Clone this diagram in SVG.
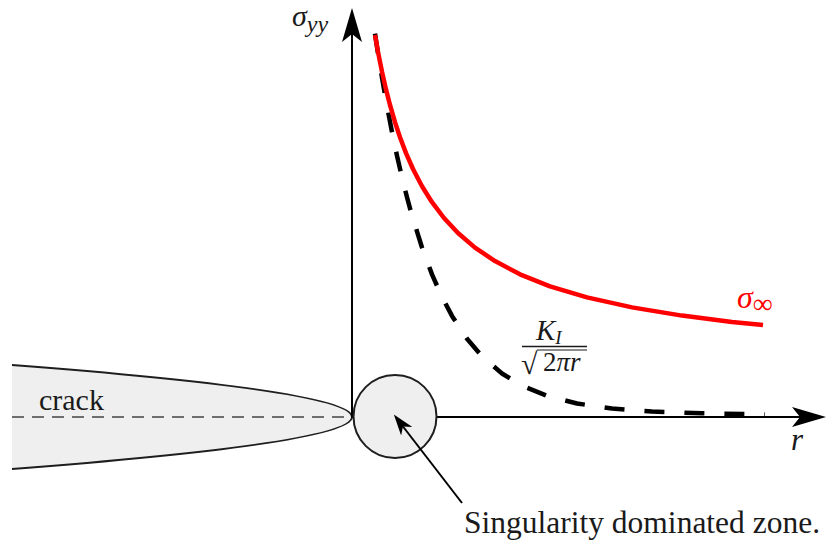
<svg xmlns="http://www.w3.org/2000/svg" width="827" height="542" viewBox="0 0 827 542">
<style>
.ax{stroke:#000;stroke-width:2;fill:none}
.edge{stroke:#1e1e1e;stroke-width:2;fill:none}
.t{font-family:"Liberation Serif","DejaVu Serif",serif;fill:#1a1a1a}
.m{font-family:"Liberation Serif","DejaVu Serif",serif;font-style:italic;fill:#1a1a1a}
.red{fill:#ff0000}
</style>
<defs>
<marker id="big" viewBox="0 0 34 20" refX="8" refY="10" markerWidth="34" markerHeight="20" markerUnits="userSpaceOnUse" orient="auto">
<path d="M0,0 L34,10 L0,20 L8,10 Z" fill="#000"/>
</marker>
<marker id="small" viewBox="0 0 21 14" refX="6" refY="7" markerWidth="21" markerHeight="14" markerUnits="userSpaceOnUse" orient="auto">
<path d="M0,0 L21,7 L0,14 L6,7 Z" fill="#000"/>
</marker>
</defs>
<rect width="827" height="542" fill="#fff"/>

<g id="crack">
<path d="M12,365 Q692,417 12,469 Z" fill="#efefef" stroke="none"/>
<path d="M12,365 Q692,417 12,469" class="edge"/>
<line x1="12" y1="417" x2="352" y2="417" stroke="#444" stroke-width="1.6" stroke-dasharray="12,8"/>
<text class="t" x="39" y="410" font-size="30">crack</text>
</g>

<g id="connectors">
<line id="axis-y" x1="352" y1="418" x2="352" y2="34" class="ax" marker-end="url(#big)"/>
<line id="axis-x" x1="352" y1="417" x2="800" y2="417" class="ax" marker-end="url(#big)"/>
</g>

<g id="zone">
<circle cx="395" cy="416.5" r="41.5" fill="#efefef" stroke="#1e1e1e" stroke-width="2"/>
</g>

<g id="pointer">
<line x1="462" y1="503" x2="403" y2="426.5" class="ax" stroke-width="2.2" marker-end="url(#small)"/>
</g>

<g id="curve-ki">
<polyline fill="none" stroke="#000" stroke-width="4.5" stroke-linejoin="round" stroke-dasharray="20,20" points="375,33.7 378,53.3 382,77.7 387,106.1 392,132 397,155.7 402,177.4 407,197.3 412,215.6 422,247.5 432,274.4 442,297 452,315.9 467,338.7 482,356.2 502,373.5 522,385.6 547,395.9 577,403.5 612,408.5 652,411.5 702,413.3 765,414.5"/>
</g>

<g id="curve-sigma-inf">
<polyline fill="none" stroke="#ff0000" stroke-width="4.5" stroke-linejoin="round" points="375,35 378,51.9 382,71.8 386,89.4 390,105 395,122.2 400,137.2 406,153.1 413,169 422,186.2 432,202.2 444,218 458,233 475,247.6 495,261.1 520,274.3 550,286.3 587,297.4 632,307.4 682,315.6 732,321.9 763,325"/>
</g>

<g id="labels">
<text class="m" x="292" y="26" font-size="30">σ<tspan font-size="24" dy="6">yy</tspan></text>
<text class="m red" x="737" y="308" font-size="32">σ<tspan font-style="normal" font-size="28" dy="5">∞</tspan></text>
<text class="m" x="536" y="340" font-size="29">K<tspan font-size="19" dy="4">I</tspan></text>
<line x1="522" y1="346.5" x2="587" y2="346.5" stroke="#1a1a1a" stroke-width="1.3"/>
<line x1="537" y1="350" x2="587" y2="350" stroke="#1a1a1a" stroke-width="1.2"/>
<text class="t" x="521" y="374" font-size="30">√</text>
<text class="t" x="543" y="371" font-size="27">2<tspan font-style="italic">πr</tspan></text>
<text class="m" x="791" y="450" font-size="31">r</text>
<text class="t" x="464" y="533" font-size="31.5">Singularity dominated zone.</text>
</g>
</svg>
